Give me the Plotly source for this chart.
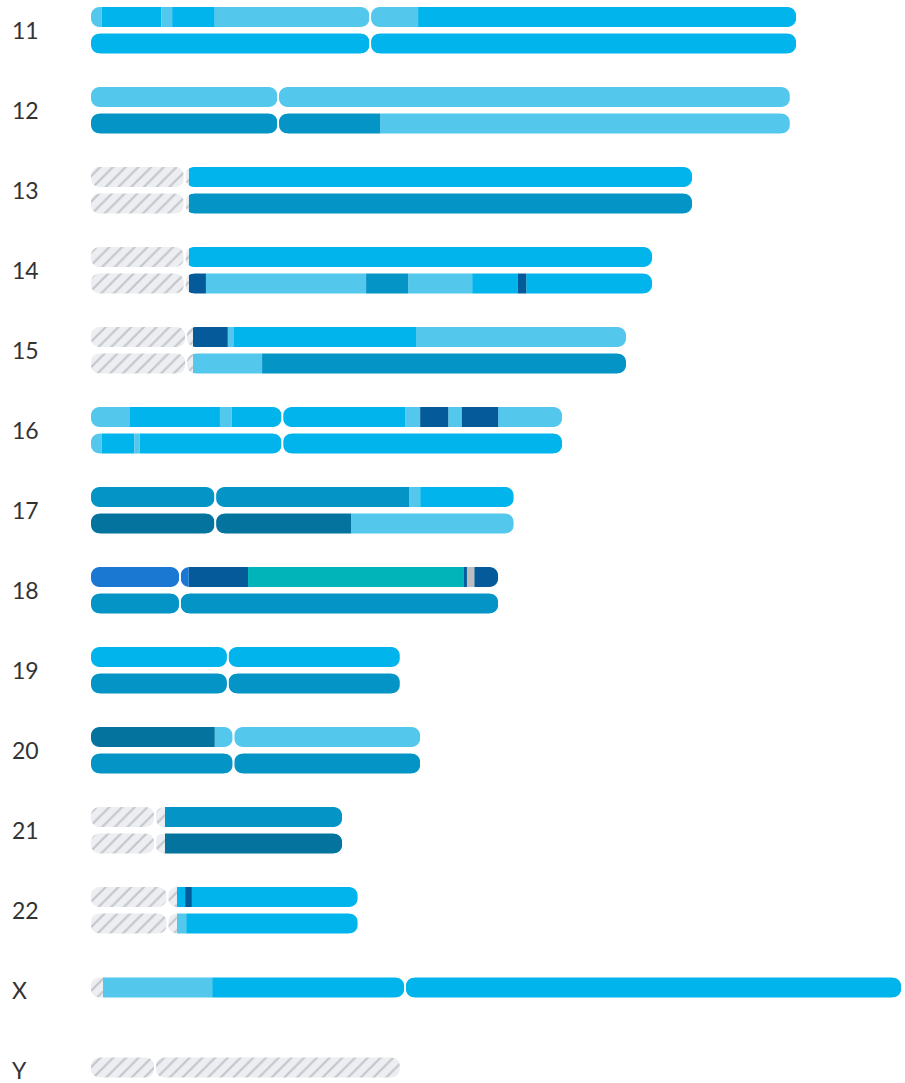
import plotly.graph_objects as go

# ---------------- data (positions in Mb) ----------------
CHROMS = ["11", "12", "13", "14", "15", "16", "17", "18", "19", "20", "21", "22", "X", "Y"]
LENGTH_MB = [135.6, 134.4, 115.6, 107.9, 102.9, 90.6, 81.3, 78.3, 59.4, 63.3, 48.3, 51.3, 155.8, 59.4]
CENTROMERE_MB = [53.7, 36.0, 18.0, 18.0, 18.3, 36.8, 23.9, 17.1, 26.3, 27.4, 12.3, 14.7, 60.4, 12.3]

# segment end positions and ancestry of first copy
H1_ENDS = [
    [2.1, 13.5, 15.6, 23.8, 62.9, 135.6],
    [134.4],
    [18.8, 115.6],
    [18.8, 107.9],
    [19.6, 26.3, 27.5, 62.5, 102.9],
    [7.5, 24.8, 27.1, 60.4, 63.3, 68.7, 71.3, 78.3, 90.6],
    [61.2, 63.3, 81.3],
    [18.8, 30.2, 71.6, 72.3, 73.7, 78.3],
    [59.4],
    [23.8, 63.3],
    [14.2, 48.3],
    [16.5, 18.1, 19.4, 51.3],
    [2.3, 23.3, 155.8],
    [59.4],
]
H1_ANC = [
    ["light", "bright", "light", "bright", "light", "bright"],
    ["light"],
    ["unassigned", "bright"],
    ["unassigned", "bright"],
    ["unassigned", "navy", "light", "bright", "light"],
    ["light", "bright", "light", "bright", "light", "navy", "light", "navy", "light"],
    ["medium", "light", "bright"],
    ["royal", "navy", "teal", "navy", "gray", "navy"],
    ["bright"],
    ["deep", "light"],
    ["unassigned", "medium"],
    ["unassigned", "bright", "navy", "bright"],
    ["unassigned", "light", "bright"],
    ["unassigned"],
]
# second copy (none for X and Y)
H2_ENDS = [
    [135.6],
    [55.6, 134.4],
    [18.8, 115.6],
    [18.8, 22.1, 52.9, 61.0, 73.3, 82.1, 83.7, 107.9],
    [19.6, 32.9, 102.9],
    [2.1, 8.3, 9.4, 90.6],
    [50.0, 81.3],
    [78.3],
    [59.4],
    [63.3],
    [14.2, 48.3],
    [16.5, 18.3, 51.3],
    [],
    [],
]
H2_ANC = [
    ["bright"],
    ["medium", "light"],
    ["unassigned", "medium"],
    ["unassigned", "navy", "light", "medium", "light", "bright", "navy", "bright"],
    ["unassigned", "light", "medium"],
    ["light", "bright", "light", "bright"],
    ["deep", "light"],
    ["medium"],
    ["medium"],
    ["medium"],
    ["unassigned", "deep"],
    ["unassigned", "light", "bright"],
    [],
    [],
]

COLORS = {
    "bright": "#02b4ec",
    "light": "#54c8ec",
    "medium": "#0594c6",
    "deep": "#04739e",
    "navy": "#055b9a",
    "royal": "#1a77d2",
    "teal": "#00b4b9",
    "gray": "#bdbdbd",
    "unassigned": "#eceef1",
}

# ---------------- layout constants ----------------
W, H = 905, 1083
X0_PX = 91.0
PX_PER_MB = 5.2
ROW0, ROW_STEP = 29.5, 80.0
LABEL_X_PX = 10.0
BAR_H = 20.0
RADIUS_PX = 8.5
GAP_PX = 1.6
K = 0.5523

gap_mb = GAP_PX / PX_PER_MB
rx = RADIUS_PX / PX_PER_MB
ry = RADIUS_PX
ext = GAP_PX / 2 / PX_PER_MB

bars = {c: {"y": [], "base": [], "x": []} for c in COLORS}
shapes = []
annotations = []


def end_mask(x0, yt, yb, side):
    # side = +1 for left end (round toward +x), -1 for right end
    s = side
    xo = x0 - s * ext
    xi = x0 + s * rx
    xc = x0 + s * rx * (1 - K)
    p = (
        f"M {xo},{yt - 0.6} L {xi},{yt - 0.6} L {xi},{yt} "
        f"C {xc},{yt} {x0},{yt + ry * (1 - K)} {x0},{yt + ry} "
        f"L {x0},{yb - ry} "
        f"C {x0},{yb - ry * (1 - K)} {xc},{yb} {xi},{yb} "
        f"L {xi},{yb + 0.6} L {xo},{yb + 0.6} Z"
    )
    return dict(type="path", path=p, xref="x", yref="y", fillcolor="white",
                line=dict(width=0), layer="above")


for i, chrom in enumerate(CHROMS):
    yc = ROW0 + ROW_STEP * i
    length = LENGTH_MB[i]
    cen = CENTROMERE_MB[i]
    arms = [(0.0, cen - gap_mb / 2), (cen + gap_mb / 2, length)]
    copies = [(H1_ENDS[i], H1_ANC[i])]
    if H2_ENDS[i]:
        copies.append((H2_ENDS[i], H2_ANC[i]))
        centers = [yc - 12.5, yc + 14.0]
    else:
        centers = [yc - 2.0]
    for (ends, anc), ymid in zip(copies, centers):
        start = 0.0
        for end, cat in zip(ends, anc):
            for a0, a1 in arms:
                s = max(start, a0)
                e = min(end, a1)
                if e > s:
                    bars[cat]["y"].append(ymid)
                    bars[cat]["base"].append(s)
                    bars[cat]["x"].append(e - s)
            start = end
        yt, yb = ymid - BAR_H / 2, ymid + BAR_H / 2
        for a0, a1 in arms:
            shapes.append(end_mask(a0, yt, yb, +1))
            shapes.append(end_mask(a1, yt, yb, -1))
    annotations.append(dict(
        text=chrom, xref="paper", x=LABEL_X_PX / W, xanchor="left",
        yref="y", y=yc, yanchor="middle", showarrow=False,
        font=dict(family="Lato, Open Sans, sans-serif", size=23, color="#333333"),
    ))

fig = go.Figure()
for cat, d in bars.items():
    if not d["y"]:
        continue
    marker = dict(color=COLORS[cat], line=dict(width=0))
    if cat == "unassigned":
        marker["pattern"] = dict(shape="/", fgcolor="#c3c6ca", bgcolor=COLORS[cat],
                                 size=9, solidity=0.24, fillmode="replace")
    fig.add_trace(go.Bar(
        orientation="h", y=d["y"], x=d["x"], base=d["base"], width=BAR_H,
        marker=marker, name=cat, hoverinfo="skip",
    ))

fig.update_layout(
    width=W, height=H, margin=dict(l=0, r=0, t=0, b=0),
    paper_bgcolor="white", plot_bgcolor="white",
    barmode="overlay", showlegend=False,
    xaxis=dict(range=[-X0_PX / PX_PER_MB, (W - X0_PX) / PX_PER_MB], visible=False, fixedrange=True),
    yaxis=dict(range=[H, 0], visible=False, fixedrange=True),
    shapes=shapes, annotations=annotations,
)

fig.write_html(
    "out.html",
    config={"displayModeBar": False, "staticPlot": True},
    post_script="document.body.style.margin='0';document.body.style.overflow='hidden';",
)
